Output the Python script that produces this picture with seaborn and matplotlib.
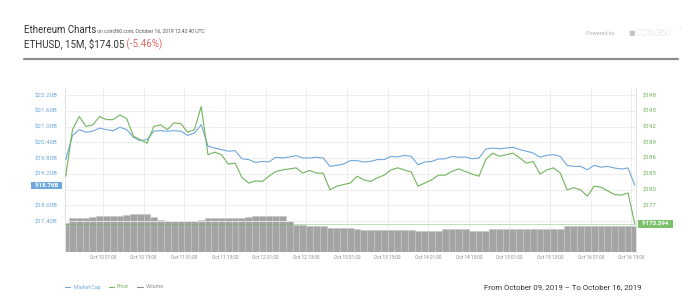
import matplotlib
matplotlib.use("Agg")
import matplotlib.pyplot as plt
import matplotlib.transforms as mtrans
import matplotlib.dates as mdates
from matplotlib.lines import Line2D
from matplotlib.ticker import FuncFormatter, FixedLocator
import numpy as np
import pandas as pd
import seaborn as sns

# ---------------- data (2-hour samples) ----------------
market_cap = [  # USD billions
    19.74, 20.66, 20.88, 20.78, 20.82, 20.94, 20.88, 20.84, 20.97, 20.88,
    20.59, 20.46, 20.50, 20.82, 20.84, 20.82, 20.84, 20.82, 20.66, 20.75,
    21.07, 20.25, 20.18, 20.12, 20.06, 20.08, 19.77, 19.74, 19.63, 19.67,
    19.65, 19.83, 19.80, 19.84, 19.89, 19.80, 19.80, 19.83, 19.80, 19.48,
    19.52, 19.57, 19.70, 19.70, 19.65, 19.67, 19.74, 19.74, 19.86, 19.84,
    19.90, 19.86, 19.54, 19.65, 19.67, 19.76, 19.77, 19.86, 19.83, 19.84,
    19.77, 19.80, 20.14, 20.18, 20.15, 20.18, 20.21, 20.12, 20.06, 19.99,
    19.83, 19.90, 19.93, 19.86, 19.52, 19.48, 19.48, 19.35, 19.52, 19.45,
    19.48, 19.42, 19.38, 19.42, 18.76,
]
price = [  # USD
    182.5, 191.4, 193.9, 192.0, 192.3, 193.9, 193.3, 193.3, 194.2, 193.5,
    190.1, 189.5, 188.8, 192.0, 192.3, 191.4, 192.7, 192.5, 190.9, 191.4,
    195.8, 186.6, 187.1, 186.6, 184.8, 185.0, 182.3, 181.2, 181.6, 181.5,
    182.5, 183.4, 183.7, 183.9, 184.1, 183.1, 183.6, 183.1, 183.1, 179.9,
    180.6, 180.9, 181.2, 182.5, 181.8, 181.5, 182.2, 182.7, 183.7, 184.1,
    183.7, 183.3, 180.6, 181.2, 181.8, 182.7, 182.7, 183.4, 183.9, 183.4,
    182.9, 182.5, 185.7, 186.9, 186.3, 186.6, 186.9, 186.0, 185.0, 185.3,
    182.9, 183.7, 184.1, 183.1, 179.9, 180.3, 179.9, 178.7, 180.6, 180.4,
    179.7, 179.0, 178.9, 179.3, 173.394,
]
volume = [  # USD billions (24h volume, approximate)
    7.25, 8.5, 8.5, 8.5, 8.75, 8.9, 9.0, 9.0, 9.1, 9.25,
    9.5, 9.5, 9.5, 8.75, 8.0, 7.75, 7.75, 7.75, 7.75, 7.75,
    7.9, 8.5, 8.5, 8.5, 8.5, 8.5, 8.6, 8.75, 9.0, 9.0,
    9.0, 9.0, 9.0, 7.75, 6.75, 6.75, 6.5, 6.5, 6.4, 6.0,
    6.0, 6.0, 6.0, 5.75, 5.6, 5.6, 5.6, 5.6, 5.6, 5.6,
    5.6, 5.5, 5.3, 5.3, 5.3, 5.3, 5.8, 5.8, 5.8, 5.8,
    5.2, 5.2, 5.2, 5.8, 5.8, 5.8, 5.8, 5.8, 5.8, 5.8,
    5.8, 5.8, 5.8, 5.8, 6.4, 6.4, 6.4, 6.4, 6.4, 6.4,
    6.4, 6.4, 6.4, 6.4, 6.4,
]
start_time = "2019-10-09 14:00"
first_tick = "2019-10-10 01:00"
left_ticks = [17.4, 18.0, 18.6, 19.2, 19.8, 20.4, 21.0, 21.6, 22.2]
right_ticks = [177, 180, 183, 186, 189, 192, 195, 198]
legend_labels = ["Market Cap", "Price", "Volume"]
title_main = "Ethereum Charts"
title_small = " on coin360.com, October 16, 2019 12:42:40 UTC"
subtitle = "ETHUSD, 15M, $174.05"
change_text = " (-5.46%)"
footer = "From October 09, 2019 \u2013 To October 16, 2019"

times = pd.date_range(start_time, periods=len(price), freq="2h")
df = pd.DataFrame({"time": times, "market_cap": market_cap, "price": price, "volume": volume})

# ---------------- style ----------------
sns.set_theme(style="white")
plt.rcParams["font.family"] = ["Roboto", "DejaVu Sans"]

BLUE = "#6fa8dc"
GREEN = "#72b35c"
GREEN_BOX = "#7cc06a"
GRID = "#ebebeb"

W, H = 700, 306
fig = plt.figure(figsize=(W / 100, H / 100), dpi=100)
fig.patch.set_facecolor("white")

def fx(x):
    return x / W

def fy(y):
    return 1 - y / H

L, R, T, B = 64.7, 635.5, 88, 252
rect = [fx(L), fy(B), (R - L) / W, (B - T) / H]

# volume (bottom layer)
ax_vol = fig.add_axes(rect)
ax_vol.bar(df["time"], df["volume"], width=2 / 24, color="#a4a4a4",
           edgecolor="#c6c6c6", linewidth=0.4, align="center", zorder=2)
ax_vol.set_ylim(0, 41)
ax_vol.set_yticks([])
t0 = pd.Timestamp(first_tick)
ax_vol.set_xlim(t0 - pd.Timedelta(hours=11.3), t0 + pd.Timedelta(hours=157.2))
xt = pd.date_range(first_tick, periods=14, freq="12h")
ax_vol.set_xticks(xt)
ax_vol.xaxis.set_major_formatter(mdates.DateFormatter("%b %d %H:%M"))
ax_vol.tick_params(axis="x", length=0, pad=2, labelsize=3.4, labelcolor="#8a8a8a")
ax_vol.grid(True, axis="x", color=GRID, lw=0.6, zorder=0)
ax_vol.set_axisbelow(True)
ax_vol.set_xlabel("")
for s in ["top", "bottom"]:
    ax_vol.spines[s].set_visible(False)
for s in ["left", "right"]:
    ax_vol.spines[s].set_color("#e2e2e2")
    ax_vol.spines[s].set_linewidth(0.8)

# market cap (left axis)
ax_mc = ax_vol.twinx()
ax_mc.yaxis.tick_left()
sns.lineplot(data=df, x="time", y="market_cap", ax=ax_mc, color=BLUE, lw=0.8)
ax_mc.set_ylim(22.2 - (B - 95) / 26.25, 22.2 + (95 - T) / 26.25)
ax_mc.yaxis.set_major_locator(FixedLocator(left_ticks))
last_mc = market_cap[-1]
ax_mc.yaxis.set_major_formatter(
    FuncFormatter(lambda v, p: "" if abs(v - last_mc) < 0.25 else f"${v:.2f}B"))
ax_mc.tick_params(axis="y", length=0, pad=5, labelsize=4.4, labelcolor=BLUE)
ax_mc.grid(True, axis="y", color=GRID, lw=0.6)
ax_mc.set_axisbelow(True)
ax_mc.set_ylabel("")
ax_mc.set_xlabel("")
for s in ax_mc.spines.values():
    s.set_visible(False)

# price (right axis)
ax_p = ax_vol.twinx()
sns.lineplot(data=df, x="time", y="price", ax=ax_p, color=GREEN, lw=0.8)
ax_p.set_ylim(198 - (B - 95) / 5.24, 198 + (95 - T) / 5.24)
ax_p.yaxis.set_major_locator(FixedLocator(right_ticks))
ax_p.yaxis.set_major_formatter(FuncFormatter(lambda v, p: f"${v:.0f}"))
ax_p.tick_params(axis="y", length=0, pad=5, labelsize=4.4, labelcolor=GREEN)
ax_p.set_ylabel("")
ax_p.set_xlabel("")
ax_p.axhline(price[-1], color=GREEN, lw=0.5, alpha=0.6)
for s in ax_p.spines.values():
    s.set_visible(False)

# last-value boxes
tr_mc = mtrans.blended_transform_factory(ax_mc.transAxes, ax_mc.transData)
ax_mc.text(-0.006, last_mc, f"  ${last_mc:.2f}B  ", transform=tr_mc,
           ha="right", va="center", fontsize=4.4, color="white", fontweight="bold",
           bbox=dict(boxstyle="square,pad=0.2", fc=BLUE, ec="none"),
           zorder=10, clip_on=False)
tr_p = mtrans.blended_transform_factory(ax_p.transAxes, ax_p.transData)
ax_p.text(1.006, price[-1], f"  ${price[-1]:.3f}  ", transform=tr_p,
          ha="left", va="center", fontsize=4.4, color="white", fontweight="bold",
          bbox=dict(boxstyle="square,pad=0.2", fc=GREEN_BOX, ec="none"),
          zorder=10, clip_on=False)

# ---------------- header ----------------
t1 = fig.text(fx(24), fy(33.3), title_main, fontsize=7, color="#333333", va="baseline")
fig.add_artist(plt.Annotation(title_small, xy=(1, 0), xycoords=t1, xytext=(0, 0.9),
                              textcoords="offset points", ha="left", va="bottom",
                              fontsize=3.6, color="#555555", annotation_clip=False))
t2 = fig.text(fx(24), fy(47.7), subtitle, fontsize=7, color="#333333", va="baseline")
fig.add_artist(plt.Annotation(change_text, xy=(1, 0), xycoords=t2, ha="left", va="bottom",
                              fontsize=7, color="#e06666", annotation_clip=False))
fig.add_artist(Line2D([fx(24), fx(678)], [fy(59.2), fy(59.2)], color="#8c8c8c", lw=1.6))

fig.text(fx(615), fy(33), "Powered by", fontsize=4, color="#b5b5b5", ha="right", va="center")
fig.text(fx(628.5), fy(33), "\u25a0", fontsize=5, color="#c4c4c4", ha="left", va="center",
         family=["DejaVu Sans"])
fig.text(fx(635), fy(33), "COIN360", fontsize=6.6, color="#c0c0c0", ha="left", va="center",
         fontweight="light")
fig.text(fx(679), fy(29.5), "\u2122", fontsize=3, color="#c0c0c0", ha="left", va="center")

# ---------------- legend & footer ----------------
handles = [Line2D([], [], color=BLUE, lw=0.8), Line2D([], [], color=GREEN, lw=0.8),
           Line2D([], [], color="#8a8a8a", lw=0.8)]
fig.legend(handles, legend_labels, loc="center left", bbox_to_anchor=(fx(63), fy(287)),
           ncol=3, frameon=False, fontsize=3.8, handlelength=1.0, handletextpad=0.6,
           columnspacing=1.6, labelcolor=[BLUE, GREEN, "#8a8a8a"], borderaxespad=0)

ft = fig.text(fx(641), fy(287.5), footer, ha="right", va="center", fontsize=6, color="#333333",
              family=["Liberation Sans Narrow", "Roboto", "DejaVu Sans"])
fig.canvas.draw()
w = ft.get_window_extent().width
if w > 0:
    ft.set_fontsize(6 * 160 / w)

fig.savefig("out.png", dpi=100, facecolor="white")
